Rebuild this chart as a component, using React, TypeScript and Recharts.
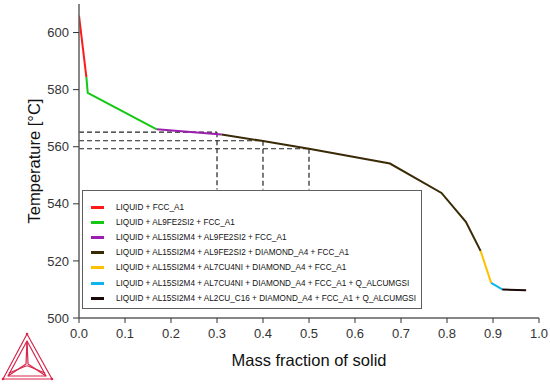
import React from 'react';
import {
  LineChart,
  Line,
  XAxis,
  YAxis,
  ReferenceLine,
  Legend,
} from 'recharts';

// phases in order of appearance along the solidification path
const phaseNames = [
  'LIQUID + FCC_A1',
  'LIQUID + AL9FE2SI2 + FCC_A1',
  'LIQUID + AL15SI2M4 + AL9FE2SI2 + FCC_A1',
  'LIQUID + AL15SI2M4 + AL9FE2SI2 + DIAMOND_A4 + FCC_A1',
  'LIQUID + AL15SI2M4 + AL7CU4NI + DIAMOND_A4 + FCC_A1',
  'LIQUID + AL15SI2M4 + AL7CU4NI + DIAMOND_A4 + FCC_A1 + Q_ALCUMGSI',
  'LIQUID + AL15SI2M4 + AL2CU_C16 + DIAMOND_A4 + FCC_A1 + Q_ALCUMGSI',
];
const phaseColors = ['#ff1a1a', '#14c814', '#9b1fae', '#3a2a06', '#ffc000', '#10b4ec', '#1a0808'];

const solidFraction = [
  [0, 0.016],
  [0.016, 0.019, 0.169],
  [0.169, 0.31],
  [0.31, 0.4, 0.5, 0.676, 0.788, 0.841, 0.873],
  [0.873, 0.896],
  [0.896, 0.92],
  [0.92, 0.972],
];
const temperature = [
  [605.9, 584.4],
  [584.4, 578.9, 566.1],
  [566.1, 564.3],
  [564.3, 562.0, 559.3, 554.1, 543.8, 533.7, 523.5],
  [523.5, 512.3],
  [512.3, 510.0],
  [510.0, 509.7],
];

// dashed read-off guides
const guideFraction = [0.3, 0.4, 0.5];
const guideTemp = [565.1, 562.1, 559.3];
const guideBottom = 545;

const xTicks = [0, 0.1, 0.2, 0.3, 0.4, 0.5, 0.6, 0.7, 0.8, 0.9, 1.0];
const yTicks = [500, 520, 540, 560, 580, 600];

const FONT = '"Liberation Sans", Arial, sans-serif';
const FRAME = '#5f5f5f';

document.body.style.margin = '0';

function PhaseLegend() {
  return (
    <div
      style={{
        width: 340,
        height: 119,
        border: `1.5px solid ${FRAME}`,
        background: '#fff',
        boxSizing: 'border-box',
        paddingTop: 9,
        paddingLeft: 8,
      }}
    >
      {phaseNames.map((name, i) => (
        <div key={name} style={{ display: 'flex', alignItems: 'center', height: 15.1 }}>
          <span style={{ width: 13, height: 3, background: phaseColors[i], display: 'inline-block' }} />
          <span
            style={{
              marginLeft: 12,
              fontFamily: FONT,
              fontSize: 8.2,
              color: '#111',
              whiteSpace: 'nowrap',
            }}
          >
            {name}
          </span>
        </div>
      ))}
    </div>
  );
}

function Logo() {
  const c = '#d8264c';
  return (
    <svg width={56} height={52} style={{ position: 'absolute', left: 0, top: 331 }}>
      <g fill="none" stroke={c} strokeWidth={1.2} strokeLinejoin="round">
        <polygon points="27,3 3,48 52,48" />
        <polygon points="27,10 8,45 46,45" />
        <polyline points="27,10 26,33 8,45" />
        <polyline points="27,10 28,33 46,45" />
        <polyline points="9,42 26,35 28,35 45,42" />
      </g>
      <g fill={c}>
        <circle cx={27} cy={3} r={1.3} />
        <circle cx={3} cy={48} r={1.3} />
        <circle cx={52} cy={48} r={1.3} />
      </g>
    </svg>
  );
}

export default function App() {
  return (
    <div style={{ position: 'relative', width: 550, height: 384, background: '#fff' }}>
      <LineChart width={550} height={384} margin={{ top: 4, right: 11, bottom: 0, left: 0 }}>
        <XAxis
          type="number"
          dataKey="x"
          domain={[0, 1]}
          ticks={xTicks}
          tickFormatter={(v: number) => v.toFixed(1)}
          height={66}
          allowDataOverflow
          axisLine={{ stroke: FRAME, strokeWidth: 1.5 }}
          tickLine={{ stroke: '#333' }}
          tickSize={5}
          tickMargin={6}
          tick={{ fill: '#333', fontSize: 13, fontFamily: FONT }}
          label={{
            value: 'Mass fraction of solid',
            position: 'insideBottom',
            offset: 18,
            style: { fill: '#111', fontSize: 16.5, fontFamily: FONT },
          }}
        />
        <XAxis
          xAxisId="top"
          orientation="top"
          type="number"
          domain={[0, 1]}
          height={0}
          tick={false}
          tickLine={false}
          axisLine={{ stroke: FRAME, strokeWidth: 1.5 }}
        />
        <YAxis
          type="number"
          domain={[500, 610]}
          ticks={yTicks}
          width={79}
          allowDataOverflow
          axisLine={{ stroke: FRAME, strokeWidth: 1.5 }}
          tickLine={{ stroke: '#333' }}
          tickSize={6}
          tickMargin={4}
          tick={{ fill: '#333', fontSize: 13, fontFamily: FONT }}
          label={{
            value: 'Temperature [°C]',
            angle: -90,
            position: 'insideLeft',
            offset: 34,
            style: { textAnchor: 'middle', fill: '#111', fontSize: 16.5, fontFamily: FONT },
          }}
        />
        <YAxis
          yAxisId="right"
          orientation="right"
          domain={[500, 610]}
          width={0}
          tick={false}
          tickLine={false}
          axisLine={{ stroke: FRAME, strokeWidth: 1.5 }}
        />
        {guideFraction.map((f, i) => (
          <ReferenceLine
            key={`h-${f}`}
            segment={[
              { x: 0, y: guideTemp[i] },
              { x: f, y: guideTemp[i] },
            ]}
            stroke="#222"
            strokeWidth={1.2}
            strokeDasharray="5 3"
          />
        ))}
        {guideFraction.map((f, i) => (
          <ReferenceLine
            key={`v-${f}`}
            segment={[
              { x: f, y: guideTemp[i] },
              { x: f, y: guideBottom },
            ]}
            stroke="#222"
            strokeWidth={1.2}
            strokeDasharray="5 3"
          />
        ))}
        {phaseNames.map((name, i) => (
          <Line
            key={name}
            name={name}
            data={solidFraction[i].map((x, j) => ({ x, t: temperature[i][j] }))}
            dataKey="t"
            stroke={phaseColors[i]}
            strokeWidth={2}
            dot={false}
            activeDot={false}
            isAnimationActive={false}
          />
        ))}
        <Legend
          layout="vertical"
          align="center"
          verticalAlign="middle"
          content={() => <PhaseLegend />}
          wrapperStyle={{ left: 82, top: 190, width: 340, height: 119 }}
        />
      </LineChart>
      <Logo />
    </div>
  );
}
